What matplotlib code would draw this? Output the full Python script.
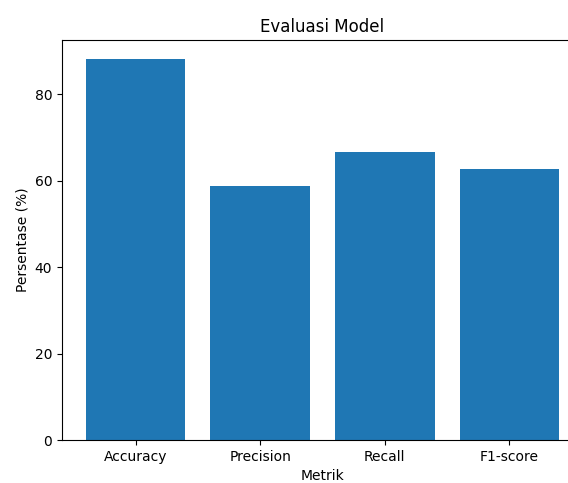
import matplotlib
matplotlib.use("Agg")
import matplotlib.pyplot as plt

# Data
metrics = ["Accuracy", "Precision", "Recall", "F1-score"]
scores = [88.1, 58.8, 66.5, 62.6]

fig = plt.figure(figsize=(5.68, 4.83), dpi=100)
# axes run past the right edge, as in the cropped reference
ax = fig.add_axes([62 / 568, 43 / 483, 521 / 568, 400 / 483])

ax.bar(metrics, scores, color="#1f77b4")
ax.set_title("Evaluasi Model")
ax.set_xlabel("Metrik")
ax.set_ylabel("Persentase (%)")

fig.savefig("out.png", dpi=100)
